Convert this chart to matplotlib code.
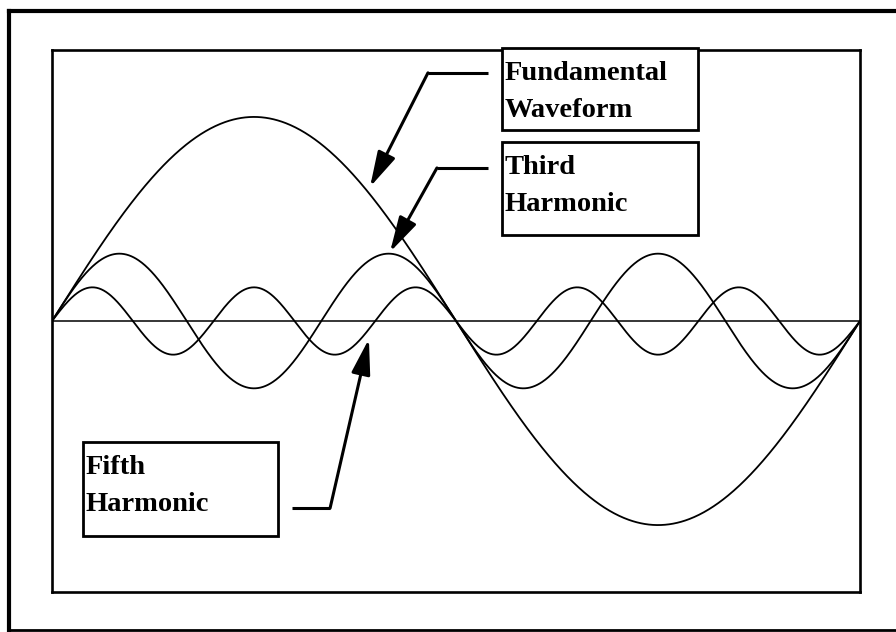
import numpy as np
import matplotlib
matplotlib.use("Agg")
import matplotlib.pyplot as plt
from matplotlib.patches import Rectangle
from matplotlib.lines import Line2D

# harmonic order and relative amplitude of each wave
harmonics = [1, 3, 5]
amplitudes = [1.0, 0.33, 0.165]

# label text, box corners (deg, amplitude), arrow elbow and tip
labels = [["Fundamental", "Waveform"], ["Third", "Harmonic"], ["Fifth", "Harmonic"]]
box_x = [(200.5, 287.8), (200.5, 287.8), (13.8, 100.7)]
box_y = [(0.936, 1.338), (0.422, 0.877), (-1.054, -0.593)]
arrow_start = [(194.3, 1.216), (194.3, 0.750), (106.9, -0.917)]
arrow_elbow = [(167.5, 1.216), (171.5, 0.750), (123.9, -0.917)]
arrow_tip = [(141.7, 0.657), (150.6, 0.338), (141.2, -0.088)]

W, H = 896, 632
fig = plt.figure(figsize=(W / 100, H / 100), dpi=100)
fig.patch.set_facecolor("white")

# plot box in pixels: x 52-860, y 50-592
ax = fig.add_axes([52 / W, (H - 592) / H, 808 / W, 542 / H])
ax.set_xlim(0, 360)
ax.set_ylim(-1.328, 1.328)
ax.set_xticks([])
ax.set_yticks([])
for sp in ax.spines.values():
    sp.set_linewidth(1.9)
    sp.set_color("black")

deg = np.linspace(0, 360, 1000)
for n, a in zip(harmonics, amplitudes):
    ax.plot(deg, a * np.sin(np.radians(n * deg)), color="black", lw=1.3)

# zero line
ax.axhline(0, color="black", lw=1.1)

# label boxes with elbow arrows
px = 0.181  # one text line in amplitude units (37 px)
for lines, bx, by, s, e, t in zip(labels, box_x, box_y, arrow_start, arrow_elbow, arrow_tip):
    ax.add_patch(Rectangle((bx[0], by[0]), bx[1] - bx[0], by[1] - by[0],
                           fill=True, facecolor="white", edgecolor="black",
                           lw=2.0, clip_on=False, zorder=3))
    for i, txt in enumerate(lines):
        ax.text(bx[0] + 1.2, by[1] - 0.157 - i * px, txt, family="Liberation Serif",
                fontweight="bold", fontsize=20.5, va="baseline", ha="left", zorder=4)
    ax.plot([s[0], e[0]], [s[1], e[1]], color="black", lw=2.2, solid_capstyle="butt")
    ax.annotate("", xy=t, xytext=e,
                arrowprops=dict(arrowstyle="-|>,head_length=1.2,head_width=0.32",
                                color="black", lw=2.2, shrinkA=0, shrinkB=0,
                                mutation_scale=18))

# outer frame, right side falls outside the picture
for xs, ys, lw in [((9, W), (11, 11), 3.0), ((9, 9), (11, 630), 3.0), ((9, W), (630, 630), 2.0)]:
    fig.add_artist(Line2D([x / W for x in xs], [1 - y / H for y in ys],
                          color="black", lw=lw, transform=fig.transFigure))

fig.savefig("out.png", dpi=100)
